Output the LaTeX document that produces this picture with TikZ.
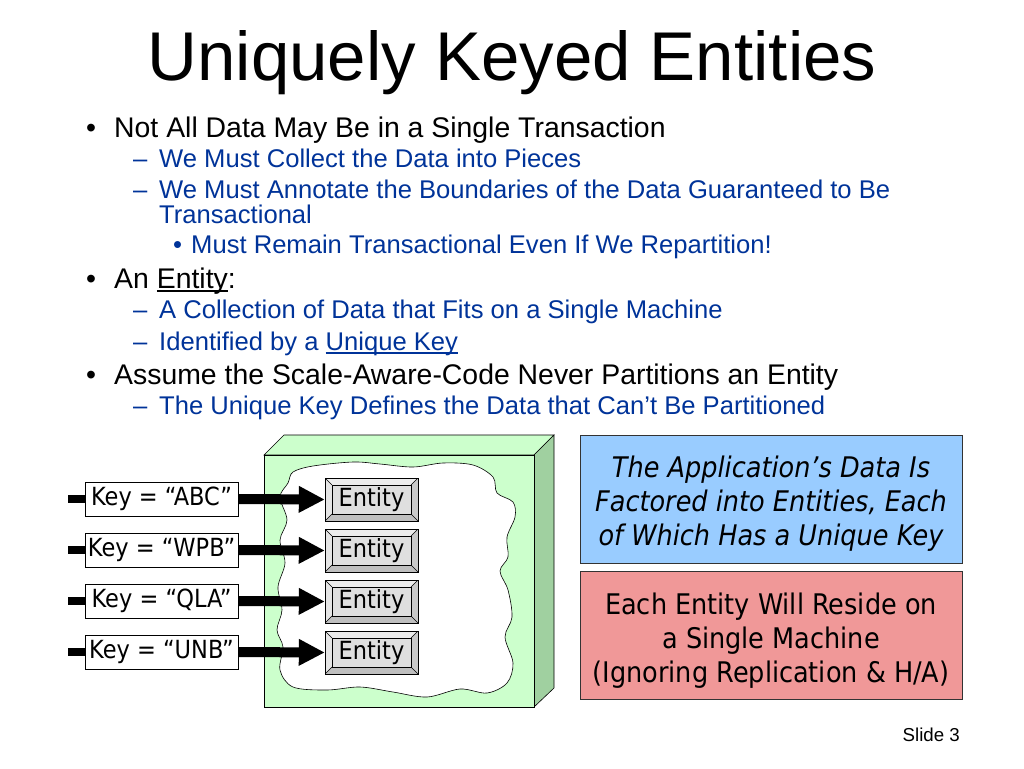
\documentclass[tikz,border=0pt]{standalone}
\usepackage{fontspec}
\setmainfont{Liberation Sans}
\newfontfamily\tahoma[FakeStretch=0.9]{DejaVu Sans}
\usetikzlibrary{positioning,arrows.meta}
\definecolor{slideblue}{RGB}{0,51,153}
\definecolor{machinegreen}{RGB}{204,255,204}
\definecolor{machineside}{RGB}{160,208,160}
\definecolor{noteblue}{RGB}{153,204,255}
\definecolor{notered}{RGB}{240,152,152}
\newcommand{\ulword}[1]{\setbox0\hbox{#1}\rlap{\rule[-3.8pt]{\wd0}{1.4pt}}\box0}

\begin{document}
\begin{tikzpicture}[x=1pt, y=-1pt,
txt/.style={inner sep=0pt, anchor=base west},
lvlone/.style={txt, font=\fontsize{28.4}{34}\selectfont},
lvltwo/.style={txt, text=slideblue, font=\fontsize{25.6}{30}\selectfont},
lvlthree/.style={txt, text=slideblue, font=\fontsize{25.6}{30}\selectfont},
keybox/.style={draw, fill=white, inner sep=0pt, minimum width=153pt, minimum height=34pt, font=\tahoma\fontsize{25}{30}\selectfont},
entitybox/.style={draw, fill=gray!25, inner sep=0pt, minimum width=93pt, minimum height=43pt, font=\tahoma\fontsize{25}{30}\selectfont,
  path picture={
    \coordinate (pnw) at (path picture bounding box.north west);
    \coordinate (pne) at (path picture bounding box.north east);
    \coordinate (psw) at (path picture bounding box.south west);
    \coordinate (pse) at (path picture bounding box.south east);
    \fill[gray!15] (pnw) -- (pne) -- ([shift={(-7,7)}]pne) -- ([shift={(7,7)}]pnw) -- cycle;
    \fill[gray!20] (pnw) -- ([shift={(7,7)}]pnw) -- ([shift={(7,-7)}]psw) -- (psw) -- cycle;
    \fill[gray!50] (psw) -- (pse) -- ([shift={(-7,-7)}]pse) -- ([shift={(7,-7)}]psw) -- cycle;
    \fill[gray!42] (pne) -- (pse) -- ([shift={(-7,-7)}]pse) -- ([shift={(-7,7)}]pne) -- cycle;
    \draw[line width=0.6pt] ([shift={(7,7)}]pnw) rectangle ([shift={(-7,-7)}]pse);
    \draw[line width=0.6pt] (pnw) -- ([shift={(7,7)}]pnw) (pne) -- ([shift={(-7,7)}]pne)
      (psw) -- ([shift={(7,-7)}]psw) (pse) -- ([shift={(-7,-7)}]pse);
  }},
notebox/.style={draw=black!80, line width=0.8pt, minimum width=382pt, minimum height=128pt, align=center, font=\tahoma\fontsize{28.4}{34}\selectfont},
stub/.style={line width=8pt},
keyarrow/.style={line width=10pt, -{Triangle[length=26pt, width=25pt]}}]

\useasboundingbox (0,0) rectangle (1024,768);

% title
\node[inner sep=0pt, anchor=base, font=\fontsize{69}{80}\selectfont] (title) at (512,81) {Uniquely Keyed Entities};

% bullets
\node[lvlone] (d1) at (86,137) {\textbullet};
\node[lvlone] (t1) at (114,137) {Not All Data May Be in a Single Transaction};
\node[lvltwo] (d11) at (133,167) {--};
\node[lvltwo] (t11) at (159,167) {We Must Collect the Data into Pieces};
\node[lvltwo] (d12) at (133,198) {--};
\node[lvltwo] (t12) at (159,198) {We Must Annotate the Boundaries of the Data Guaranteed to Be};
\node[lvltwo] (t12b) at (159,223) {Transactional};
\node[lvlthree] (d121) at (173,253) {\textbullet};
\node[lvlthree] (t121) at (191,253) {Must Remain Transactional Even If We Repartition!};
\node[lvlone] (d2) at (86,288) {\textbullet};
\node[lvlone] (t2) at (114,288) {An \ulword{Entity}:};
\node[lvltwo] (d21) at (133,318) {--};
\node[lvltwo] (t21) at (159,318) {A Collection of Data that Fits on a Single Machine};
\node[lvltwo] (d22) at (133,350) {--};
\node[lvltwo] (t22) at (159,350) {Identified by a \ulword{Unique Key}};
\node[lvlone] (d3) at (86,384) {\textbullet};
\node[lvlone] (t3) at (114,384) {Assume the Scale-Aware-Code Never Partitions an Entity};
\node[lvltwo] (d31) at (133,414) {--};
\node[lvltwo] (t31) at (159,414) {The Unique Key Defines the Data that Can’t Be Partitioned};

% machine
\draw[fill=machinegreen, line width=0.6pt] (264,455) -- (284,435) -- (554,435) -- (534,455) -- cycle;
\draw[fill=machineside, line width=0.6pt] (534,455) -- (554,435) -- (554,688) -- (534,707) -- cycle;
\draw[fill=machinegreen, line width=0.6pt] (264,455) rectangle (534,707);
\draw[fill=white, line width=0.6pt] plot[smooth cycle, tension=0.55] coordinates {
  (293,472) (313,466) (353,462) (380,464) (413,467) (443,463) (473,465) (493,477)
  (497,493) (513,502) (515,517) (507,537) (508,557) (500,571) (508,590) (512,617)
  (505,637) (513,663) (507,683) (487,693) (460,689) (427,697) (393,692) (360,687)
  (327,690) (293,687) (280,670) (283,647) (277,630) (282,610) (278,587) (285,563)
  (280,540) (287,520) (280,497) (288,483)};

% entities
\node[entitybox] (e1) at (371.5,499.5) {Entity};
\node[entitybox] (e2) at (371.5,550.5) {Entity};
\node[entitybox] (e3) at (371.5,601.5) {Entity};
\node[entitybox] (e4) at (371.5,652.5) {Entity};

% keys
\node[keybox] (k1) at (161.5,499) {Key = “ABC”};
\node[keybox] (k2) at (161.5,550) {Key = “WPB”};
\node[keybox] (k3) at (161.5,601) {Key = “QLA”};
\node[keybox] (k4) at (161.5,652) {Key = “UNB”};

\coordinate (s1) at (68,499);
\coordinate (s2) at (68,550);
\coordinate (s3) at (68,601);
\coordinate (s4) at (68,652);

\draw[stub] (s1) -- (k1.west);
\draw[stub] (s2) -- (k2.west);
\draw[stub] (s3) -- (k3.west);
\draw[stub] (s4) -- (k4.west);

\draw[keyarrow] (k1.east) -- (e1.west);
\draw[keyarrow] (k2.east) -- (e2.west);
\draw[keyarrow] (k3.east) -- (e3.west);
\draw[keyarrow] (k4.east) -- (e4.west);

% notes
\node[notebox, fill=noteblue] (appnote) at (771,499) {\rule{0pt}{30pt}\itshape The Application’s Data Is\\\itshape Factored into Entities, Each\\\itshape of Which Has a Unique Key};
\node[notebox, fill=notered] (machinenote) at (771,635) {\rule{0pt}{32pt}Each Entity Will Reside on\\a Single Machine\\(Ignoring Replication \& H/A)};

\node[inner sep=0pt, anchor=base east, font=\fontsize{18.7}{22}\selectfont] (slideno) at (960,741) {Slide 3};

\end{tikzpicture}
\end{document}
